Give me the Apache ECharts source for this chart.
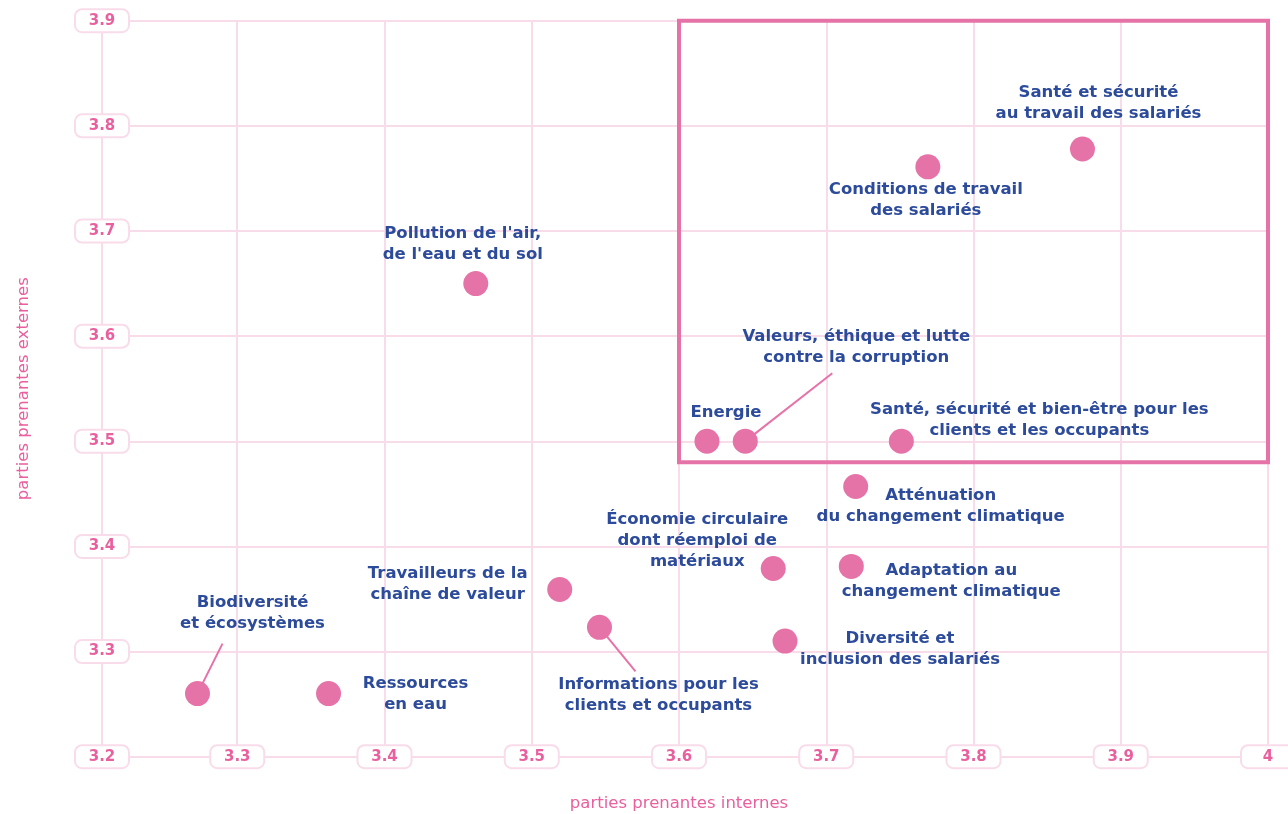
<!DOCTYPE html>
<html>
<head>
<meta charset="utf-8">
<script src="https://cdn.jsdelivr.net/npm/echarts@6/dist/echarts.min.js"></script>
<style>
html,body{margin:0;padding:0;background:#fff;overflow:hidden;width:1288px;height:814px;}
#chart{position:absolute;left:0;top:0;width:1288px;height:814px;}
</style>
</head>
<body>
<div id="chart"></div>
<script>
// ---- data ----
const names = [
  "Santé et sécurité\nau travail des salariés",
  "Conditions de travail\ndes salariés",
  "Pollution de l'air,\nde l'eau et du sol",
  "Energie",
  "Valeurs, éthique et lutte\ncontre la corruption",
  "Santé, sécurité et bien-être pour les\nclients et les occupants",
  "Atténuation\ndu changement climatique",
  "Économie circulaire\ndont réemploi de\nmatériaux",
  "Adaptation au\nchangement climatique",
  "Travailleurs de la\nchaîne de valeur",
  "Informations pour les\nclients et occupants",
  "Diversité et\ninclusion des salariés",
  "Biodiversité\net écosystèmes",
  "Ressources\nen eau"
];
const internes = [3.874, 3.769, 3.462, 3.619, 3.645, 3.751, 3.720, 3.664, 3.717, 3.519, 3.546, 3.672, 3.273, 3.362];
const externes = [3.778, 3.761, 3.650, 3.500, 3.500, 3.500, 3.457, 3.379, 3.381, 3.359, 3.323, 3.310, 3.260, 3.260];
const xTickMin = 3.2, xTickMax = 4.0;
const yTickMin = 3.2, yTickMax = 3.9;
const tickStep = 0.1;
// highlighted zone (internes from/to, externes from/to)
const zoneX = [3.6, 4.0];
const zoneY = [3.48, 3.9];

// ---- layout for labels (pixel offsets from point centre) ----
const labelOffsets = [
  [16,-46],[-2,33],[-13,-39],[19,-29],[111,-94],[138,-21],[85,20],
  [-76,-28],[100,15],[-112,-5],[59,68],[115,8],[55,-80],[87,1]
];
// leader line ends (pixel offsets from point centre), null = no leader
const leaderEnds = [null,null,null,null,[87,-68],null,null,null,null,null,[36,44],null,[25,-50],null];

const PINK = '#e673a8';
const GRID = '#f9dcea';
const AXTXT = '#e8609e';
const BLUE = '#2d4b9b';
const FONT = '"DejaVu Sans", sans-serif';

const seriesData = names.map((n, i) => ({
  name: n,
  value: [internes[i], externes[i]],
  label: { offset: labelOffsets[i] }
}));

const leaderData = [];
names.forEach((n, i) => { if (leaderEnds[i]) leaderData.push([internes[i], externes[i], i]); });

const axisLabelBox = {
  color: AXTXT,
  fontFamily: FONT,
  fontSize: 15,
  fontWeight: 'bold',
  backgroundColor: '#fff',
  borderColor: GRID,
  borderWidth: 2,
  borderRadius: 6,
  width: 34,
  align: 'center',
  verticalAlign: 'middle',
  padding: [3, 9, 3, 9]
};

const chart = echarts.init(document.getElementById('chart'), null, {renderer: 'canvas', width: 1288, height: 814});
chart.setOption({
  animation: false,
  backgroundColor: '#fff',
  grid: { left: 90, right: 20, top: 20.7, bottom: 57.3, containLabel: false, outerBoundsMode: 'none' },
  xAxis: {
    type: 'value',
    min: xTickMin, max: xTickMax, interval: tickStep,
    name: 'parties prenantes internes',
    nameLocation: 'middle',
    nameGap: 39,
    nameTextStyle: { color: AXTXT, fontFamily: FONT, fontSize: 16.5 },
    axisLine: { show: true, lineStyle: { color: GRID, width: 2 } },
    axisTick: { show: false },
    axisLabel: Object.assign({ margin: 0, showMinLabel: false }, axisLabelBox),
    splitLine: { show: true, showMinLine: false, lineStyle: { color: GRID, width: 2 } }
  },
  yAxis: {
    type: 'value',
    min: yTickMin, max: yTickMax, interval: tickStep,
    offset: -12,
    name: 'parties prenantes externes',
    nameLocation: 'middle',
    nameGap: 70,
    nameRotate: 90,
    nameTextStyle: { color: AXTXT, fontFamily: FONT, fontSize: 16.5 },
    axisLine: { show: true, lineStyle: { color: GRID, width: 2 } },
    axisTick: { show: false },
    axisLabel: Object.assign({ margin: 0 }, axisLabelBox),
    splitLine: { show: true, lineStyle: { color: GRID, width: 2 } }
  },
  series: [{
    type: 'custom',
    silent: true,
    z: 1,
    data: leaderData,
    renderItem: function (params, api) {
      const p = api.coord([api.value(0), api.value(1)]);
      const e = leaderEnds[api.value(2)];
      const len = Math.sqrt(e[0] * e[0] + e[1] * e[1]);
      const r = 10;
      return {
        type: 'line',
        shape: { x1: p[0] + e[0] / len * r, y1: p[1] + e[1] / len * r, x2: p[0] + e[0], y2: p[1] + e[1] },
        style: { stroke: PINK, lineWidth: 2 }
      };
    }
  }, {
    type: 'scatter',
    z: 3,
    symbolSize: 25,
    itemStyle: { color: PINK, opacity: 1 },
    data: seriesData,
    label: {
      show: true,
      position: 'inside',
      formatter: p => p.name,
      color: BLUE,
      fontFamily: FONT,
      fontSize: 16.5,
      fontWeight: 'bold',
      lineHeight: 21,
      align: 'center',
      verticalAlign: 'middle'
    },
    emphasis: { disabled: true },
    markArea: {
      silent: true,
      itemStyle: { color: 'rgba(0,0,0,0)', borderColor: PINK, borderWidth: 4 },
      data: [[{ coord: [zoneX[0], zoneY[1]] }, { coord: [zoneX[1], zoneY[0]] }]]
    }
  }]
});
</script>
</body>
</html>
